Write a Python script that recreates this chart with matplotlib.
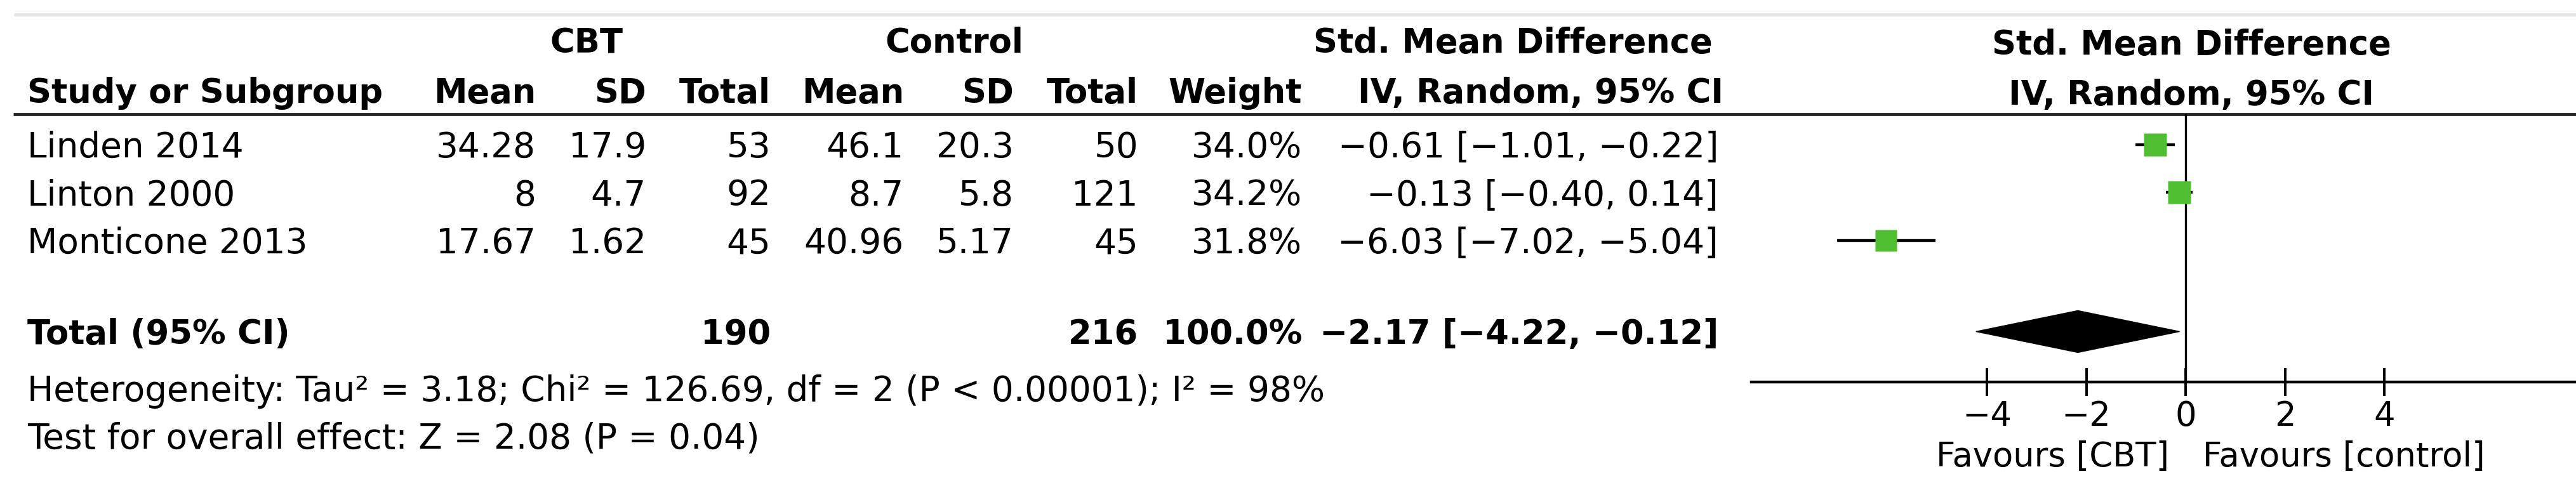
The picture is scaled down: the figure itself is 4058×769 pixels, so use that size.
import numpy as np
import matplotlib.pyplot as plt
from matplotlib.patches import Polygon

# study data
studies = ["Linden 2014", "Linton 2000", "Monticone 2013"]
cbt_mean = ["34.28", "8", "17.67"]
cbt_sd = ["17.9", "4.7", "1.62"]
cbt_n = [53, 92, 45]
ctl_mean = ["46.1", "8.7", "40.96"]
ctl_sd = ["20.3", "5.8", "5.17"]
ctl_n = [50, 121, 45]
weights = [34.0, 34.2, 31.8]
smd = [-0.61, -0.13, -6.03]
ci_low = [-1.01, -0.40, -7.02]
ci_high = [-0.22, 0.14, -5.04]

total_smd, total_low, total_high = -2.17, -4.22, -0.12
heterogeneity = "Heterogeneity: Tau\u00b2 = 3.18; Chi\u00b2 = 126.69, df = 2 (P < 0.00001); I\u00b2 = 98%"
overall = "Test for overall effect: Z = 2.08 (P = 0.04)"
xticks = [-4, -2, 0, 2, 4]

# layout (pixels, y from top)
W, H = 4058, 769
FS, FSB = 39.5, 38
GREEN = "#4fbf31"
ROW0, STEP = 228, 75.5
BASE = 20                     # baseline offset below row centre
TOTAL_ROW = 3.9
X_STUDY = 43
COL_R = [844, 1018, 1214, 1424, 1597, 1793, 2051, 2707]
AX_L, AX_TOP, AX_BOT = 2759, 180, 602
ZERO_PX, UNIT_PX = 3443, 78.25


def fmt(v):
    return f"{v:.2f}".replace("-", "\u2212")


def ci_text(e, lo, hi):
    return f"{fmt(e)} [{fmt(lo)}, {fmt(hi)}]"


def main():
    plt.rcParams["font.family"] = ["DejaVu Sans"]
    fig = plt.figure(figsize=(W / 100, H / 100), dpi=100)

    tab = fig.add_axes([0, 0, 1, 1])
    tab.set_xlim(0, W)
    tab.set_ylim(H, 0)
    tab.axis("off")

    # rules
    tab.plot([22, W], [23, 23], color="#e4e4e4", lw=3.5, solid_capstyle="butt")
    tab.plot([21, W], [AX_TOP, AX_TOP], color="#2a2a2a", lw=3.5, solid_capstyle="butt")

    # headers
    h1, h2 = 83, 162
    tab.text(924, h1, "CBT", ha="center", va="baseline", fontsize=FSB, weight="bold")
    tab.text(1503, h1, "Control", ha="center", va="baseline", fontsize=FSB, weight="bold")
    tab.text(2383, h1, "Std. Mean Difference", ha="center", va="baseline", fontsize=FSB, weight="bold")
    tab.text(3452, h1 + 3, "Std. Mean Difference", ha="center", va="baseline", fontsize=FSB, weight="bold")
    tab.text(X_STUDY, h2, "Study or Subgroup", ha="left", va="baseline", fontsize=FSB, weight="bold")
    heads = ["Mean", "SD", "Total", "Mean", "SD", "Total", "Weight"]
    for x, s in zip(COL_R, heads):
        tab.text(x, h2, s, ha="right", va="baseline", fontsize=FSB, weight="bold")
    tab.text(2427, h2, "IV, Random, 95% CI", ha="center", va="baseline", fontsize=FSB, weight="bold")
    tab.text(3452, h2 + 3, "IV, Random, 95% CI", ha="center", va="baseline", fontsize=FSB, weight="bold")

    # study rows
    rows_y = [ROW0 + i * STEP for i in range(len(studies))]
    for i, y in enumerate(rows_y):
        b = y + BASE
        tab.text(X_STUDY, b, studies[i], ha="left", va="baseline", fontsize=FS)
        vals = [cbt_mean[i], cbt_sd[i], str(cbt_n[i]), ctl_mean[i], ctl_sd[i],
                str(ctl_n[i]), f"{weights[i]:.1f}%", ci_text(smd[i], ci_low[i], ci_high[i])]
        for x, s in zip(COL_R, vals):
            tab.text(x, b, s, ha="right", va="baseline", fontsize=FS)

    # total row
    ty = ROW0 + TOTAL_ROW * STEP
    tb = ty + BASE
    tab.text(X_STUDY, tb, "Total (95% CI)", ha="left", va="baseline", fontsize=FSB, weight="bold")
    tvals = {2: str(sum(cbt_n)), 5: str(sum(ctl_n)), 6: f"{sum(weights):.1f}%",
             7: ci_text(total_smd, total_low, total_high)}
    for k, s in tvals.items():
        tab.text(COL_R[k], tb, s, ha="right", va="baseline", fontsize=FSB, weight="bold")

    tab.text(X_STUDY, 632, heterogeneity, ha="left", va="baseline", fontsize=FS)
    tab.text(X_STUDY, 707, overall, ha="left", va="baseline", fontsize=FS)

    tab.text(3417, 735, "Favours [CBT]", ha="right", va="baseline", fontsize=FS - 1.5)
    tab.text(3470, 735, "Favours [control]", ha="left", va="baseline", fontsize=FS - 1.5)

    # forest plot
    ax = fig.add_axes([AX_L / W, (H - AX_BOT) / H, (W - AX_L) / W, (AX_BOT - AX_TOP) / H])
    ax.patch.set_alpha(0)
    ax.set_xlim((AX_L - ZERO_PX) / UNIT_PX, (W - ZERO_PX) / UNIT_PX)
    ax.set_ylim(AX_BOT, AX_TOP)
    for s in ["top", "left", "right"]:
        ax.spines[s].set_visible(False)
    ax.spines["bottom"].set_linewidth(3.2)
    ax.set_yticks([])
    ax.set_xticks(xticks)
    ax.tick_params(axis="x", direction="inout", length=31, width=2.8, pad=4.5, labelsize=FS - 1.5)
    ax.axvline(0, color="black", lw=2.4, zorder=2)

    ax.hlines(rows_y, ci_low, ci_high, color="black", lw=3.2, zorder=3)
    for x, y, w in zip(smd, rows_y, weights):
        ax.plot(x, y, "s", color=GREEN, ms=26 * np.sqrt(w / 34.0), mec="none", zorder=4)

    half = 33
    diamond = Polygon([(total_low, ty), (total_smd, ty - half), (total_high, ty), (total_smd, ty + half)],
                      closed=True, facecolor="black", edgecolor="black", zorder=4)
    ax.add_patch(diamond)

    fig.savefig("out.png", dpi=100)


if __name__ == "__main__":
    main()
